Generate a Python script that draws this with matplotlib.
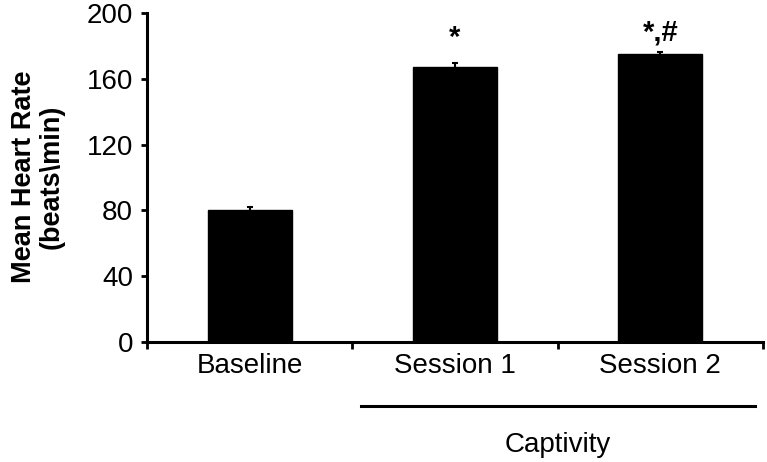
"""Mean heart rate at baseline and during two captivity sessions."""

import matplotlib
matplotlib.use('Agg')
import matplotlib.pyplot as plt
import matplotlib.transforms as mtransforms

plt.rcParams['font.family'] = ['Liberation Sans', 'DejaVu Sans']

# Data
categories = ["Baseline", "Session 1", "Session 2"]
mean_hr = [80, 167, 175]
sem_hr = [2, 2.5, 1.5]
markers = ["", "*", "*,#"]
marker_y = [0, 185, 188]
group_label = "Captivity"

fig = plt.figure(figsize=(7.67, 4.62), dpi=100, facecolor='white')
ax = fig.add_axes([0.1917, 0.2597, 0.8031, 0.7122])

x = list(range(len(categories)))
ax.bar(x, mean_hr, width=0.41, color='black', edgecolor='black')
ax.errorbar(x, mean_hr, yerr=sem_hr, fmt='none', ecolor='black',
            elinewidth=1.5, capsize=2.5, capthick=1.5)

# Significance marks above bars
for xi, txt, yi in zip(x, markers, marker_y):
    if txt:
        ax.text(xi, yi, txt, ha='center', va='center', fontsize=21,
                fontweight='bold', color='black')

ax.set_xlim(-0.5, 2.5)
ax.set_ylim(0, 200)
ax.set_yticks([0, 40, 80, 120, 160, 200])
ax.set_xticks(x)
ax.set_xticklabels(categories)
ax.set_xticks([-0.5, 0.5, 1.5, 2.5], minor=True)

for side in ['top', 'right']:
    ax.spines[side].set_visible(False)
for side in ['left', 'bottom']:
    ax.spines[side].set_linewidth(2.2)

ax.tick_params(axis='y', direction='out', length=4, width=2, labelsize=20, pad=6)
ax.tick_params(axis='x', which='major', length=0, labelsize=20, pad=8)
ax.tick_params(axis='x', which='minor', direction='out', length=5, width=2)

# Group bracket below Session 1 and Session 2
trans = mtransforms.blended_transform_factory(ax.transData, ax.transAxes)
ax.plot([0.54, 2.46], [-0.1945, -0.1945], color='black', lw=2.2,
        transform=trans, clip_on=False)
ax.text(1.5, -0.313, group_label, transform=trans, ha='center', va='center',
        fontsize=20)

fig.text(38 / 767, 0.617, "Mean Heart Rate\n(beats\\min)", rotation=90,
         ha='center', va='center', multialignment='center', fontsize=19.5,
         fontweight='bold', linespacing=1.1)

fig.savefig('out.png', dpi=100, facecolor='white')
